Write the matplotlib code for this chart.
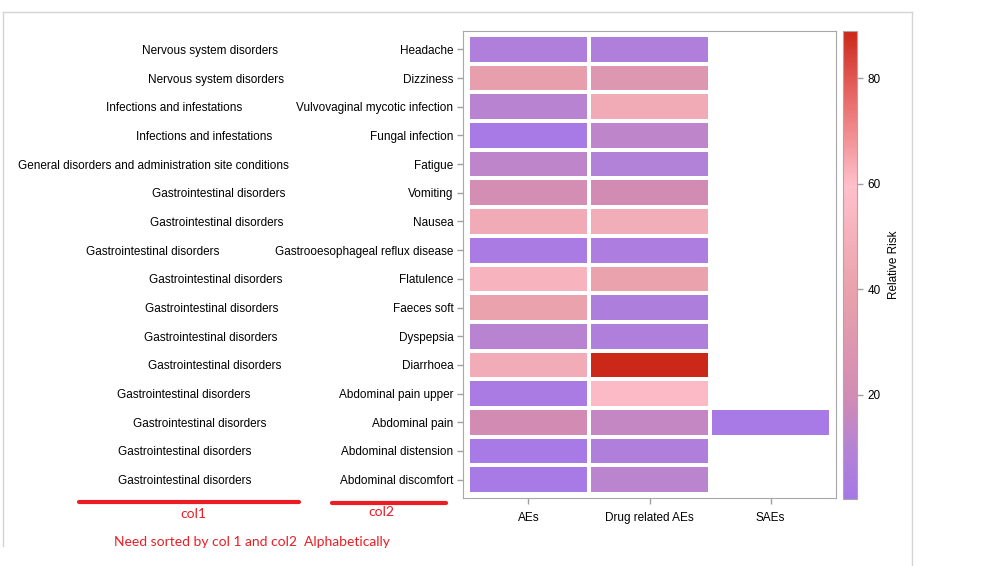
import matplotlib
matplotlib.use('Agg')
import matplotlib.pyplot as plt
import numpy as np
from matplotlib.colors import LinearSegmentedColormap
from matplotlib.lines import Line2D
from matplotlib.transforms import blended_transform_factory

plt.rcParams['font.family'] = ['Liberation Sans', 'DejaVu Sans']

# data, top row first
col1 = ['Nervous system disorders', 'Nervous system disorders',
        'Infections and infestations', 'Infections and infestations',
        'General disorders and administration site conditions',
        'Gastrointestinal disorders', 'Gastrointestinal disorders',
        'Gastrointestinal disorders', 'Gastrointestinal disorders',
        'Gastrointestinal disorders', 'Gastrointestinal disorders',
        'Gastrointestinal disorders', 'Gastrointestinal disorders',
        'Gastrointestinal disorders', 'Gastrointestinal disorders',
        'Gastrointestinal disorders']
col2 = ['Headache', 'Dizziness', 'Vulvovaginal mycotic infection',
        'Fungal infection', 'Fatigue', 'Vomiting', 'Nausea',
        'Gastrooesophageal reflux disease', 'Flatulence', 'Faeces soft',
        'Dyspepsia', 'Diarrhoea', 'Abdominal pain upper', 'Abdominal pain',
        'Abdominal distension', 'Abdominal discomfort']
groups = ['AEs', 'Drug related AEs', 'SAEs']
aes = [7, 38, 11, 2, 13, 22, 46, 3, 52, 40, 11, 47, 3, 20, 2, 2]
drug_aes = [7, 30, 46, 13, 8, 20, 48, 5, 40, 6, 7, 88.9, 56, 15, 7, 12]
saes = [np.nan] * 13 + [2] + [np.nan] * 2
vmin, vmax = 0.3, 88.9

# pixel x centres of the first label column (irregular in the original)
col1_x = [209.5, 216, 173.7, 204, 153.7, 218.8, 217, 152.8, 216, 212,
          211, 215, 183.8, 200, 184.7, 184.7]

W, H = 999, 566
fig = plt.figure(figsize=(W / 100, H / 100), dpi=100)
fs = 8.5

cmap = LinearSegmentedColormap.from_list('rr', [
    (0.0, '#a578e8'), (0.10, '#b482d6'), (0.22, '#d28cb4'),
    (0.45, '#eaa2ac'), (0.67, '#ffc0cb'), (0.88, '#e4605c'),
    (1.0, '#cc281a')])

ax = fig.add_axes([463 / W, 1 - 498 / H, 373 / W, 467 / H])
vals = np.array([aes, drug_aes, saes]).T
n = len(col2)
mesh = ax.pcolormesh(np.arange(4) - 0.5, np.arange(n + 1) - 0.5,
                     np.ma.masked_invalid(vals), cmap=cmap, vmin=vmin,
                     vmax=vmax, edgecolors='white', linewidth=1.6)
ax.set_xlim(-0.54, 2.54)
ax.set_ylim(n - 0.5 + 0.14, -0.5 - 0.14)
ax.set_xticks(range(3))
ax.set_xticklabels(groups, fontsize=fs)
ax.set_yticks(range(n))
ax.set_yticklabels(col2, fontsize=fs)
ax.tick_params(colors='#a0a0a0', labelcolor='black', length=4, width=1)
ax.tick_params(axis='x', pad=6)
ax.tick_params(axis='y', pad=3)
for s in ax.spines.values():
    s.set_color('#a8a8a8')

# first label column
tr = blended_transform_factory(fig.transFigure, ax.transData)
for i, lab in enumerate(col1):
    ax.text(col1_x[i] / W, i, lab, transform=tr, ha='center',
            va='center_baseline', fontsize=fs, clip_on=False)

cax = fig.add_axes([843 / W, 1 - 499 / H, 14 / W, 468 / H])
cb = fig.colorbar(mesh, cax=cax, ticks=[20, 40, 60, 80])
cb.outline.set_edgecolor('#a8a8a8')
cax.tick_params(colors='#a0a0a0', labelcolor='black', labelsize=fs,
                length=4, width=1)
cb.set_label('Relative Risk', fontsize=fs, labelpad=5)

# outer frame
frame_col = '#d4d4d4'
for xs, ys in [([3, 912], [12, 12]), ([3, 3], [12, 546]),
               ([912, 912], [12, 566])]:
    fig.add_artist(Line2D([x / W for x in xs], [1 - y / H for y in ys],
                          color=frame_col, lw=1))

# red annotations
red = '#ec1c24'
for xs, y in [([79, 299], 502), ([332, 446], 503)]:
    fig.add_artist(Line2D([x / W for x in xs], [1 - y / H] * 2, color=red,
                          lw=3, solid_capstyle='round'))
fig.text(193 / W, 1 - 514 / H, 'col1', color=red, fontsize=10,
         family='Lato', ha='center', va='center')
fig.text(381 / W, 1 - 512 / H, 'col2', color=red, fontsize=10,
         family='Lato', ha='center', va='center')
fig.text(252 / W, 1 - 542 / H, 'Need sorted by col 1 and col2  Alphabetically',
         color=red, fontsize=10, family='Lato', ha='center', va='center')

fig.savefig('out.png', dpi=100)
